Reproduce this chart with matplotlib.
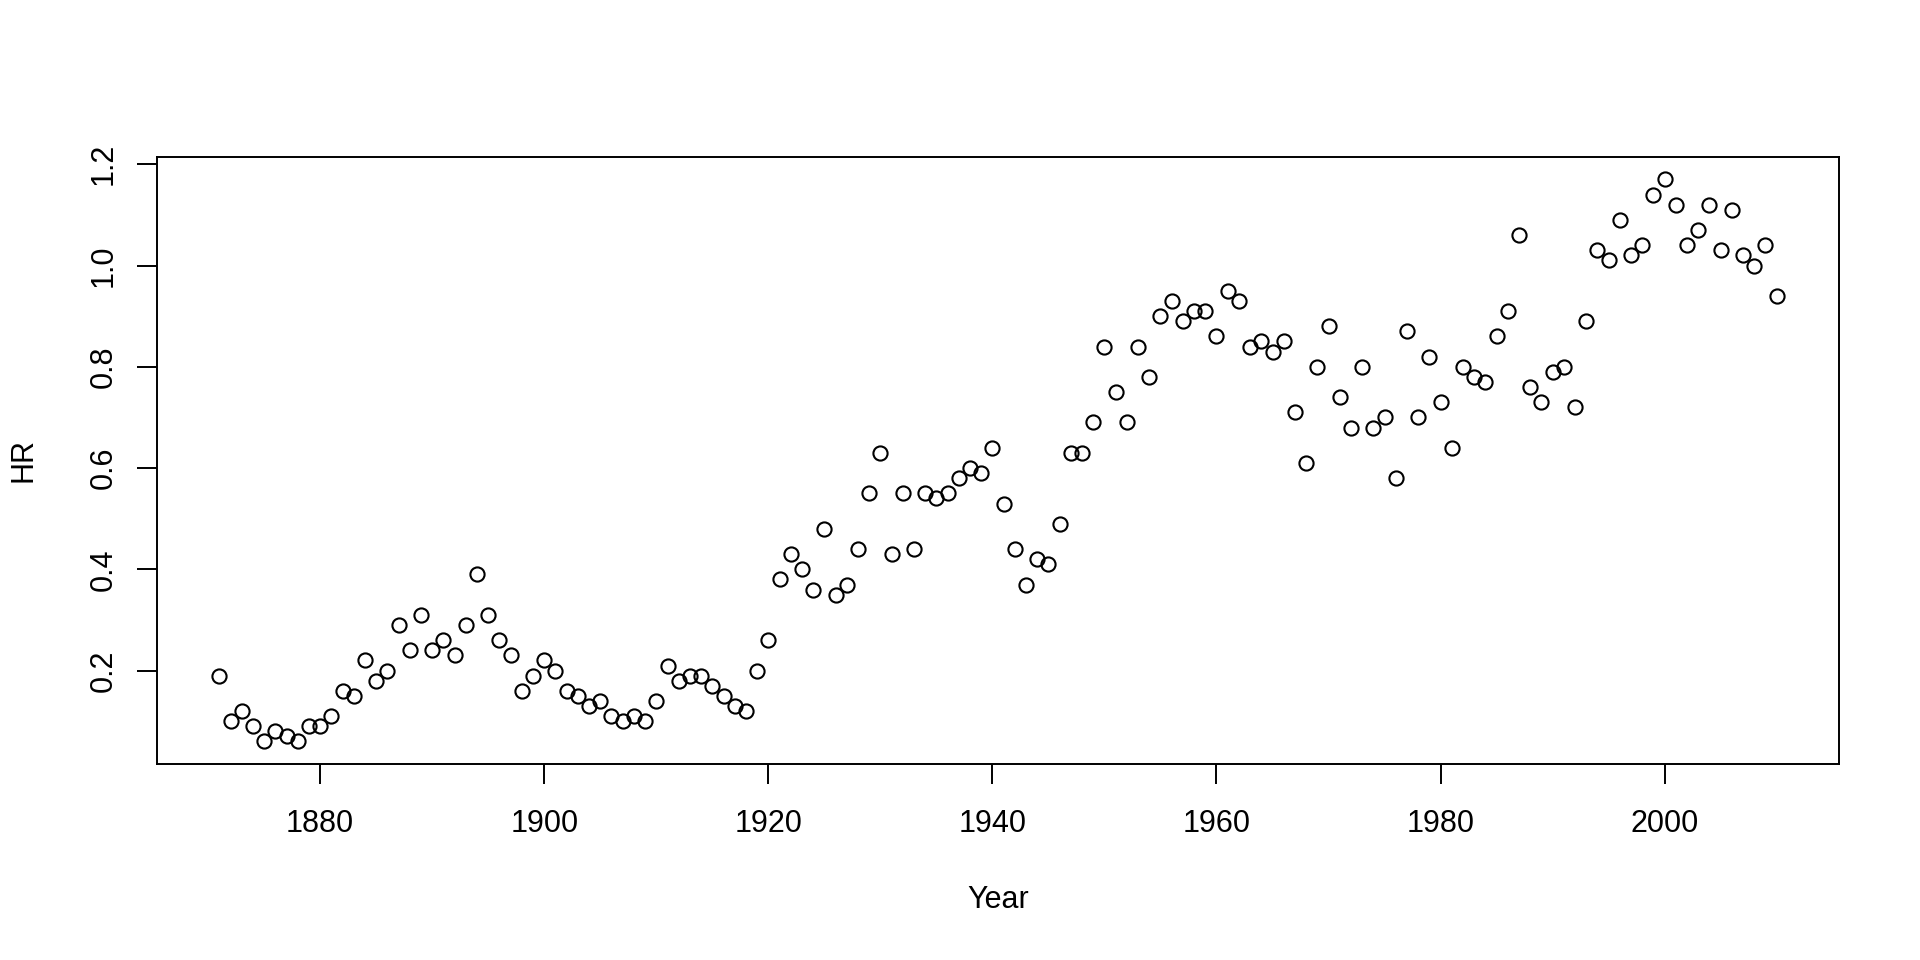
import matplotlib
matplotlib.use("Agg")
import matplotlib.pyplot as plt

plt.rcParams['font.family'] = ['Liberation Sans', 'DejaVu Sans']

# years 1871..2010
years = list(range(1871, 2011))

# home runs per game
hr = [
    0.19, 0.10, 0.12, 0.09, 0.06, 0.08, 0.07, 0.06, 0.09,              # 1871-1879
    0.09, 0.11, 0.16, 0.15, 0.22, 0.18, 0.20, 0.29, 0.24, 0.31,        # 1880s
    0.24, 0.26, 0.23, 0.29, 0.39, 0.31, 0.26, 0.23, 0.16, 0.19,        # 1890s
    0.22, 0.20, 0.16, 0.15, 0.13, 0.14, 0.11, 0.10, 0.11, 0.10,        # 1900s
    0.14, 0.21, 0.18, 0.19, 0.19, 0.17, 0.15, 0.13, 0.12, 0.20,        # 1910s
    0.26, 0.38, 0.43, 0.40, 0.36, 0.48, 0.35, 0.37, 0.44, 0.55,        # 1920s
    0.63, 0.43, 0.55, 0.44, 0.55, 0.54, 0.55, 0.58, 0.60, 0.59,        # 1930s
    0.64, 0.53, 0.44, 0.37, 0.42, 0.41, 0.49, 0.63, 0.63, 0.69,        # 1940s
    0.84, 0.75, 0.69, 0.84, 0.78, 0.90, 0.93, 0.89, 0.91, 0.91,        # 1950s
    0.86, 0.95, 0.93, 0.84, 0.85, 0.83, 0.85, 0.71, 0.61, 0.80,        # 1960s
    0.88, 0.74, 0.68, 0.80, 0.68, 0.70, 0.58, 0.87, 0.70, 0.82,        # 1970s
    0.73, 0.64, 0.80, 0.78, 0.77, 0.86, 0.91, 1.06, 0.76, 0.73,        # 1980s
    0.79, 0.80, 0.72, 0.89, 1.03, 1.01, 1.09, 1.02, 1.04, 1.14,        # 1990s
    1.17, 1.12, 1.04, 1.07, 1.12, 1.03, 1.11, 1.02, 1.00, 1.04,        # 2000s
    0.94,                                                              # 2010
]

xticks = [1880, 1900, 1920, 1940, 1960, 1980, 2000]
yticks = [0.2, 0.4, 0.6, 0.8, 1.0, 1.2]

fig = plt.figure(figsize=(19.2, 9.6), dpi=100)
# plot region as in R's default margins
ax = fig.add_axes([0.0818, 0.2042, 0.876, 0.6323])

ax.plot(years, hr, linestyle='none', marker='o', markersize=10.2,
        markerfacecolor='none', markeredgecolor='black', markeredgewidth=1.5)

# R style ranges: data range plus 4 percent
xr = max(years) - min(years)
ax.set_xlim(min(years) - 0.04 * xr, max(years) + 0.04 * xr)
yr = max(hr) - min(hr)
ax.set_ylim(min(hr) - 0.04 * yr, max(hr) + 0.04 * yr)

ax.set_xticks(xticks)
ax.set_xticklabels([str(t) for t in xticks])
ax.set_yticks(yticks)
ax.set_yticklabels(['%.1f' % t for t in yticks], rotation=90, va='center')

ax.tick_params(axis='both', length=14.4, width=1.4, labelsize=22, direction='out')
ax.tick_params(axis='x', pad=18)
ax.tick_params(axis='y', pad=13)
for s in ax.spines.values():
    s.set_linewidth(1.4)

ax.set_xlabel('Year', fontsize=22, va='center')
ax.xaxis.set_label_coords(0.5, -0.224)
ax.set_ylabel('HR', fontsize=22, va='center')
ax.yaxis.set_label_coords(-0.0797, 0.5)

fig.savefig('out.png', dpi=100)
